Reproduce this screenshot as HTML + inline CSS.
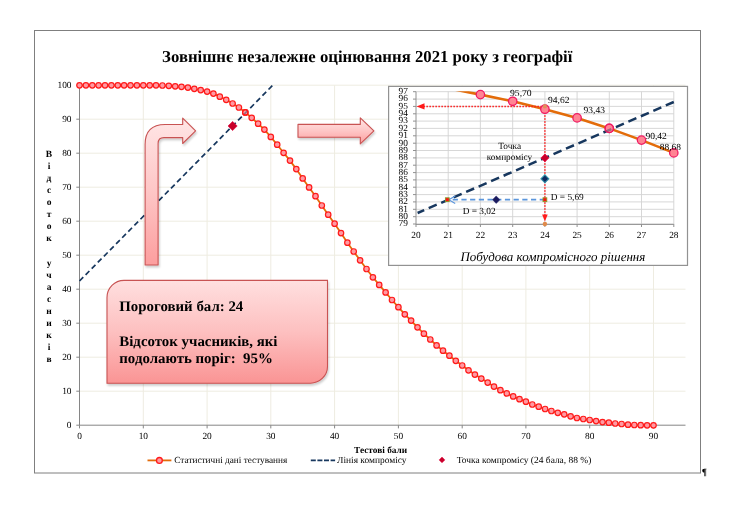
<!DOCTYPE html>
<html><head><meta charset="utf-8"><title>chart</title>
<style>html,body{margin:0;padding:0;background:#fff;}body{width:749px;height:517px;overflow:hidden;font-family:"Liberation Serif",serif;}svg{display:block;}text{font-family:"Liberation Serif",serif;fill:#000;text-rendering:geometricPrecision;}</style>
</head><body>
<svg width="749" height="517" viewBox="0 0 749 517" style="will-change:transform">
<defs>
<linearGradient id="gp" x1="0" y1="0" x2="0" y2="1"><stop offset="0" stop-color="#ffe6e6"/><stop offset="0.5" stop-color="#fec6c6"/><stop offset="1" stop-color="#fc9e9e"/></linearGradient>
<linearGradient id="gb" x1="0" y1="0" x2="0" y2="1"><stop offset="0" stop-color="#ffdfdf"/><stop offset="0.5" stop-color="#fdc0c0"/><stop offset="1" stop-color="#fa9494"/></linearGradient>
<filter id="sh" x="-10%" y="-10%" width="130%" height="130%"><feGaussianBlur in="SourceAlpha" stdDeviation="1.1"/><feOffset dx="1.2" dy="1.6" result="b"/><feComponentTransfer><feFuncA type="linear" slope="0.2"/></feComponentTransfer><feMerge><feMergeNode/><feMergeNode in="SourceGraphic"/></feMerge></filter>
</defs>
<rect x="0" y="0" width="749" height="517" fill="#ffffff"/>
<rect x="34.5" y="30.5" width="666" height="442.5" fill="#ffffff" stroke="#7f7f7f" stroke-width="1"/>
<path d="M79.5 391.2H685.5M79.5 357.2H685.5M79.5 323.2H685.5M79.5 289.2H685.5M79.5 255.2H685.5M79.5 221.2H685.5M79.5 187.2H685.5M79.5 153.2H685.5M79.5 119.2H685.5M79.5 85.2H685.5M143.3 425.2V85.2M207.1 425.2V85.2M270.8 425.2V85.2M334.6 425.2V85.2M398.4 425.2V85.2M462.2 425.2V85.2M525.9 425.2V85.2M589.7 425.2V85.2M653.5 425.2V85.2" stroke="#eeece1" stroke-width="1" fill="none"/>
<path d="M79.5 85.2V425.2H685.5M76.3 425.2H79.5M76.3 391.2H79.5M76.3 357.2H79.5M76.3 323.2H79.5M76.3 289.2H79.5M76.3 255.2H79.5M76.3 221.2H79.5M76.3 187.2H79.5M76.3 153.2H79.5M76.3 119.2H79.5M76.3 85.2H79.5M79.5 425.2v3.2M143.3 425.2v3.2M207.1 425.2v3.2M270.8 425.2v3.2M334.6 425.2v3.2M398.4 425.2v3.2M462.2 425.2v3.2M525.9 425.2v3.2M589.7 425.2v3.2M653.5 425.2v3.2" stroke="#868686" stroke-width="1" fill="none"/>
<text x="71.5" y="428.1" font-size="9.33" text-anchor="end">0</text>
<text x="71.5" y="394.1" font-size="9.33" text-anchor="end">10</text>
<text x="71.5" y="360.1" font-size="9.33" text-anchor="end">20</text>
<text x="71.5" y="326.1" font-size="9.33" text-anchor="end">30</text>
<text x="71.5" y="292.1" font-size="9.33" text-anchor="end">40</text>
<text x="71.5" y="258.1" font-size="9.33" text-anchor="end">50</text>
<text x="71.5" y="224.1" font-size="9.33" text-anchor="end">60</text>
<text x="71.5" y="190.1" font-size="9.33" text-anchor="end">70</text>
<text x="71.5" y="156.1" font-size="9.33" text-anchor="end">80</text>
<text x="71.5" y="122.1" font-size="9.33" text-anchor="end">90</text>
<text x="71.5" y="88.1" font-size="9.33" text-anchor="end">100</text>
<text x="79.5" y="439" font-size="9.33" text-anchor="middle">0</text>
<text x="143.3" y="439" font-size="9.33" text-anchor="middle">10</text>
<text x="207.1" y="439" font-size="9.33" text-anchor="middle">20</text>
<text x="270.8" y="439" font-size="9.33" text-anchor="middle">30</text>
<text x="334.6" y="439" font-size="9.33" text-anchor="middle">40</text>
<text x="398.4" y="439" font-size="9.33" text-anchor="middle">50</text>
<text x="462.2" y="439" font-size="9.33" text-anchor="middle">60</text>
<text x="525.9" y="439" font-size="9.33" text-anchor="middle">70</text>
<text x="589.7" y="439" font-size="9.33" text-anchor="middle">80</text>
<text x="653.5" y="439" font-size="9.33" text-anchor="middle">90</text>
<text x="162.1" y="62.2" font-size="16.7" font-weight="bold" textLength="410.3" lengthAdjust="spacingAndGlyphs">Зовнішнє незалежне оцінювання 2021 року з географії</text>
<text x="49" y="156.7" font-size="9.5" font-weight="bold" text-anchor="middle">В</text>
<text x="49" y="168.8" font-size="9.5" font-weight="bold" text-anchor="middle">і</text>
<text x="49" y="180.9" font-size="9.5" font-weight="bold" text-anchor="middle">д</text>
<text x="49" y="193.0" font-size="9.5" font-weight="bold" text-anchor="middle">с</text>
<text x="49" y="205.1" font-size="9.5" font-weight="bold" text-anchor="middle">о</text>
<text x="49" y="217.2" font-size="9.5" font-weight="bold" text-anchor="middle">т</text>
<text x="49" y="229.3" font-size="9.5" font-weight="bold" text-anchor="middle">о</text>
<text x="49" y="241.4" font-size="9.5" font-weight="bold" text-anchor="middle">к</text>
<text x="49" y="265.6" font-size="9.5" font-weight="bold" text-anchor="middle">у</text>
<text x="49" y="277.7" font-size="9.5" font-weight="bold" text-anchor="middle">ч</text>
<text x="49" y="289.8" font-size="9.5" font-weight="bold" text-anchor="middle">а</text>
<text x="49" y="301.9" font-size="9.5" font-weight="bold" text-anchor="middle">с</text>
<text x="49" y="314.0" font-size="9.5" font-weight="bold" text-anchor="middle">н</text>
<text x="49" y="326.1" font-size="9.5" font-weight="bold" text-anchor="middle">и</text>
<text x="49" y="338.2" font-size="9.5" font-weight="bold" text-anchor="middle">к</text>
<text x="49" y="350.3" font-size="9.5" font-weight="bold" text-anchor="middle">і</text>
<text x="49" y="362.4" font-size="9.5" font-weight="bold" text-anchor="middle">в</text>
<text x="354.1" y="453" font-size="9.33" font-weight="bold" textLength="53.1" lengthAdjust="spacingAndGlyphs">Тестові бали</text>
<path d="M79.5 281.0L272.8 85.2" stroke="#17375e" stroke-width="1.7" stroke-dasharray="5.35 3.33" fill="none"/>
<path d="M79.5 85.3L85.9 85.3L92.3 85.3L98.6 85.3L105.0 85.3L111.4 85.3L117.8 85.3L124.1 85.3L130.5 85.3L136.9 85.3L143.3 85.3L149.7 85.3L156.0 85.3L162.4 85.5L168.8 85.8L175.2 86.3L181.5 86.8L187.9 87.6L194.3 88.8L200.7 90.1L207.1 91.6L213.4 93.6L219.8 96.7L226.2 99.8L232.6 103.5L238.9 107.5L245.3 112.4L251.7 117.8L258.1 123.7L264.4 129.6L270.8 136.9L277.2 144.7L283.6 152.8L290.0 160.6L296.3 169.1L302.7 178.4L309.1 187.4L315.5 196.2L321.8 205.5L328.2 214.7L334.6 223.7L341.0 233.1L347.4 242.7L353.7 251.5L360.1 260.3L366.5 269.0L372.9 277.3L379.2 284.9L385.6 292.4L392.0 300.0L398.4 307.2L404.8 314.3L411.1 320.6L417.5 327.3L423.9 333.7L430.3 339.5L436.6 345.4L443.0 350.7L449.4 355.7L455.8 360.8L462.2 365.5L468.5 370.3L474.9 374.6L481.3 378.6L487.7 382.6L494.0 386.6L500.4 390.2L506.8 393.4L513.2 396.4L519.5 399.2L525.9 401.7L532.3 404.5L538.7 406.7L545.1 409.0L551.4 411.0L557.8 412.8L564.2 414.3L570.6 416.3L576.9 418.0L583.3 419.0L589.7 420.0L596.1 421.1L602.5 422.1L608.8 422.7L615.2 423.5L621.6 424.0L628.0 424.7L634.3 425.0L640.7 425.2L647.1 425.3L653.5 425.3" stroke="#e36c0a" stroke-width="1.8" fill="none" stroke-linejoin="round"/>
<g fill="#ff9aa2" stroke="#ff1a1a" stroke-width="1.2">
<circle cx="79.5" cy="85.3" r="2.75"/>
<circle cx="85.9" cy="85.3" r="2.75"/>
<circle cx="92.3" cy="85.3" r="2.75"/>
<circle cx="98.6" cy="85.3" r="2.75"/>
<circle cx="105.0" cy="85.3" r="2.75"/>
<circle cx="111.4" cy="85.3" r="2.75"/>
<circle cx="117.8" cy="85.3" r="2.75"/>
<circle cx="124.1" cy="85.3" r="2.75"/>
<circle cx="130.5" cy="85.3" r="2.75"/>
<circle cx="136.9" cy="85.3" r="2.75"/>
<circle cx="143.3" cy="85.3" r="2.75"/>
<circle cx="149.7" cy="85.3" r="2.75"/>
<circle cx="156.0" cy="85.3" r="2.75"/>
<circle cx="162.4" cy="85.5" r="2.75"/>
<circle cx="168.8" cy="85.8" r="2.75"/>
<circle cx="175.2" cy="86.3" r="2.75"/>
<circle cx="181.5" cy="86.8" r="2.75"/>
<circle cx="187.9" cy="87.6" r="2.75"/>
<circle cx="194.3" cy="88.8" r="2.75"/>
<circle cx="200.7" cy="90.1" r="2.75"/>
<circle cx="207.1" cy="91.6" r="2.75"/>
<circle cx="213.4" cy="93.6" r="2.75"/>
<circle cx="219.8" cy="96.7" r="2.75"/>
<circle cx="226.2" cy="99.8" r="2.75"/>
<circle cx="232.6" cy="103.5" r="2.75"/>
<circle cx="238.9" cy="107.5" r="2.75"/>
<circle cx="245.3" cy="112.4" r="2.75"/>
<circle cx="251.7" cy="117.8" r="2.75"/>
<circle cx="258.1" cy="123.7" r="2.75"/>
<circle cx="264.4" cy="129.6" r="2.75"/>
<circle cx="270.8" cy="136.9" r="2.75"/>
<circle cx="277.2" cy="144.7" r="2.75"/>
<circle cx="283.6" cy="152.8" r="2.75"/>
<circle cx="290.0" cy="160.6" r="2.75"/>
<circle cx="296.3" cy="169.1" r="2.75"/>
<circle cx="302.7" cy="178.4" r="2.75"/>
<circle cx="309.1" cy="187.4" r="2.75"/>
<circle cx="315.5" cy="196.2" r="2.75"/>
<circle cx="321.8" cy="205.5" r="2.75"/>
<circle cx="328.2" cy="214.7" r="2.75"/>
<circle cx="334.6" cy="223.7" r="2.75"/>
<circle cx="341.0" cy="233.1" r="2.75"/>
<circle cx="347.4" cy="242.7" r="2.75"/>
<circle cx="353.7" cy="251.5" r="2.75"/>
<circle cx="360.1" cy="260.3" r="2.75"/>
<circle cx="366.5" cy="269.0" r="2.75"/>
<circle cx="372.9" cy="277.3" r="2.75"/>
<circle cx="379.2" cy="284.9" r="2.75"/>
<circle cx="385.6" cy="292.4" r="2.75"/>
<circle cx="392.0" cy="300.0" r="2.75"/>
<circle cx="398.4" cy="307.2" r="2.75"/>
<circle cx="404.8" cy="314.3" r="2.75"/>
<circle cx="411.1" cy="320.6" r="2.75"/>
<circle cx="417.5" cy="327.3" r="2.75"/>
<circle cx="423.9" cy="333.7" r="2.75"/>
<circle cx="430.3" cy="339.5" r="2.75"/>
<circle cx="436.6" cy="345.4" r="2.75"/>
<circle cx="443.0" cy="350.7" r="2.75"/>
<circle cx="449.4" cy="355.7" r="2.75"/>
<circle cx="455.8" cy="360.8" r="2.75"/>
<circle cx="462.2" cy="365.5" r="2.75"/>
<circle cx="468.5" cy="370.3" r="2.75"/>
<circle cx="474.9" cy="374.6" r="2.75"/>
<circle cx="481.3" cy="378.6" r="2.75"/>
<circle cx="487.7" cy="382.6" r="2.75"/>
<circle cx="494.0" cy="386.6" r="2.75"/>
<circle cx="500.4" cy="390.2" r="2.75"/>
<circle cx="506.8" cy="393.4" r="2.75"/>
<circle cx="513.2" cy="396.4" r="2.75"/>
<circle cx="519.5" cy="399.2" r="2.75"/>
<circle cx="525.9" cy="401.7" r="2.75"/>
<circle cx="532.3" cy="404.5" r="2.75"/>
<circle cx="538.7" cy="406.7" r="2.75"/>
<circle cx="545.1" cy="409.0" r="2.75"/>
<circle cx="551.4" cy="411.0" r="2.75"/>
<circle cx="557.8" cy="412.8" r="2.75"/>
<circle cx="564.2" cy="414.3" r="2.75"/>
<circle cx="570.6" cy="416.3" r="2.75"/>
<circle cx="576.9" cy="418.0" r="2.75"/>
<circle cx="583.3" cy="419.0" r="2.75"/>
<circle cx="589.7" cy="420.0" r="2.75"/>
<circle cx="596.1" cy="421.1" r="2.75"/>
<circle cx="602.5" cy="422.1" r="2.75"/>
<circle cx="608.8" cy="422.7" r="2.75"/>
<circle cx="615.2" cy="423.5" r="2.75"/>
<circle cx="621.6" cy="424.0" r="2.75"/>
<circle cx="628.0" cy="424.7" r="2.75"/>
<circle cx="634.3" cy="425.0" r="2.75"/>
<circle cx="640.7" cy="425.2" r="2.75"/>
<circle cx="647.1" cy="425.3" r="2.75"/>
<circle cx="653.5" cy="425.3" r="2.75"/>
</g>
<clipPath id="mc"><circle cx="245.3" cy="112.4" r="2.75"/></clipPath>
<path d="M79.5 281.0L272.8 85.2" stroke="#17375e" stroke-width="1.7" stroke-dasharray="5.35 3.33" fill="none" opacity="0.45" clip-path="url(#mc)"/>
<circle cx="245.3" cy="112.4" r="2.75" fill="none" stroke="#ff1a1a" stroke-width="1.2"/>
<path d="M232.6 121.4l4.6 4.6l-4.6 4.6l-4.6 -4.6z" fill="#c8002a" stroke="#e0003a" stroke-width="0.6"/>
<g filter="url(#sh)">
<path d="M145.1 265V144.5Q145.1 124.5 165.1 124.5H182.7V118.1L195.6 130.8L182.7 143.5V137.6H164Q158.1 137.6 158.1 143.5V265Z" fill="url(#gp)" stroke="#c85252" stroke-width="1.1" stroke-linejoin="round"/>
</g>
<g filter="url(#sh)">
<path d="M298 124.4H360.3V117.8L373.9 130.8L360.3 143.9V137.3H298Z" fill="url(#gp)" stroke="#c85252" stroke-width="1.1" stroke-linejoin="round"/>
</g>
<g filter="url(#sh)">
<path d="M124 280.4H327.5V366.2A17 17 0 0 1 310.5 383.2H107V297.4A17 17 0 0 1 124 280.4Z" fill="url(#gb)" stroke="#c85252" stroke-width="1.1"/>
</g>
<text x="119.3" y="311" font-size="14.67" font-weight="bold" textLength="124" lengthAdjust="spacingAndGlyphs">Пороговий бал: 24</text>
<text x="119.3" y="345.8" font-size="14.67" font-weight="bold" xml:space="preserve" textLength="158.2" lengthAdjust="spacingAndGlyphs">Відсоток учасників, які</text>
<text x="119.3" y="362.6" font-size="14.67" font-weight="bold" xml:space="preserve" textLength="153.6" lengthAdjust="spacingAndGlyphs">подолають поріг:  95%</text>
<rect x="388.6" y="86.4" width="298.9" height="179" fill="#ffffff" stroke="#929292" stroke-width="1.2"/>
<path d="M416.0 224.0H673.8M416.0 216.7H673.8M416.0 209.3H673.8M416.0 201.9H673.8M416.0 194.6H673.8M416.0 187.2H673.8M416.0 179.9H673.8M416.0 172.6H673.8M416.0 165.2H673.8M416.0 157.9H673.8M416.0 150.5H673.8M416.0 143.2H673.8M416.0 135.8H673.8M416.0 128.4H673.8M416.0 121.1H673.8M416.0 113.8H673.8M416.0 106.4H673.8M416.0 99.1H673.8M416.0 91.7H673.8M448.2 224.0V91.7M480.4 224.0V91.7M512.7 224.0V91.7M544.9 224.0V91.7M577.1 224.0V91.7M609.3 224.0V91.7M641.5 224.0V91.7M673.8 224.0V91.7" stroke="#d3d3d3" stroke-width="0.9" fill="none"/>
<path d="M416.0 91.7V224.4H673.8M413.0 224.0h3M413.0 216.7h3M413.0 209.3h3M413.0 201.9h3M413.0 194.6h3M413.0 187.2h3M413.0 179.9h3M413.0 172.6h3M413.0 165.2h3M413.0 157.9h3M413.0 150.5h3M413.0 143.2h3M413.0 135.8h3M413.0 128.4h3M413.0 121.1h3M413.0 113.8h3M413.0 106.4h3M413.0 99.1h3M413.0 91.7h3M416.0 224.0v3M448.2 224.0v3M480.4 224.0v3M512.7 224.0v3M544.9 224.0v3M577.1 224.0v3M609.3 224.0v3M641.5 224.0v3M673.8 224.0v3" stroke="#909090" stroke-width="1" fill="none"/>
<text x="407.9" y="226.3" font-size="9.33" text-anchor="end">79</text>
<text x="407.9" y="219.0" font-size="9.33" text-anchor="end">80</text>
<text x="407.9" y="211.6" font-size="9.33" text-anchor="end">81</text>
<text x="407.9" y="204.2" font-size="9.33" text-anchor="end">82</text>
<text x="407.9" y="196.9" font-size="9.33" text-anchor="end">83</text>
<text x="407.9" y="189.6" font-size="9.33" text-anchor="end">84</text>
<text x="407.9" y="182.2" font-size="9.33" text-anchor="end">85</text>
<text x="407.9" y="174.9" font-size="9.33" text-anchor="end">86</text>
<text x="407.9" y="167.5" font-size="9.33" text-anchor="end">87</text>
<text x="407.9" y="160.2" font-size="9.33" text-anchor="end">88</text>
<text x="407.9" y="152.8" font-size="9.33" text-anchor="end">89</text>
<text x="407.9" y="145.5" font-size="9.33" text-anchor="end">90</text>
<text x="407.9" y="138.1" font-size="9.33" text-anchor="end">91</text>
<text x="407.9" y="130.8" font-size="9.33" text-anchor="end">92</text>
<text x="407.9" y="123.4" font-size="9.33" text-anchor="end">93</text>
<text x="407.9" y="116.0" font-size="9.33" text-anchor="end">94</text>
<text x="407.9" y="108.7" font-size="9.33" text-anchor="end">95</text>
<text x="407.9" y="101.4" font-size="9.33" text-anchor="end">96</text>
<text x="407.9" y="94.0" font-size="9.33" text-anchor="end">97</text>
<text x="416.0" y="238" font-size="9.33" text-anchor="middle">20</text>
<text x="448.2" y="238" font-size="9.33" text-anchor="middle">21</text>
<text x="480.4" y="238" font-size="9.33" text-anchor="middle">22</text>
<text x="512.7" y="238" font-size="9.33" text-anchor="middle">23</text>
<text x="544.9" y="238" font-size="9.33" text-anchor="middle">24</text>
<text x="577.1" y="238" font-size="9.33" text-anchor="middle">25</text>
<text x="609.3" y="238" font-size="9.33" text-anchor="middle">26</text>
<text x="641.5" y="238" font-size="9.33" text-anchor="middle">27</text>
<text x="673.8" y="238" font-size="9.33" text-anchor="middle">28</text>
<text x="460.5" y="261" font-size="13" font-style="italic" textLength="184.8" lengthAdjust="spacingAndGlyphs">Побудова компромісного рішення</text>
<clipPath id="ic"><rect x="416.0" y="91.2" width="269.8" height="140.3"/></clipPath>
<path d="M448.2 88.3L480.4 94.6L512.7 101.3L544.9 109.2L577.1 117.9L609.3 128.4L641.5 140.1L673.8 152.9" stroke="#e36c0a" stroke-width="2.6" fill="none" stroke-linejoin="round" clip-path="url(#ic)"/>
<path d="M673.8 102.0L417.6 213.0" stroke="#17375e" stroke-width="2.5" stroke-dasharray="8.7 4.9" fill="none"/>
<path d="M544.9 106.4H424.0" stroke="#ff1a1a" stroke-width="1.45" stroke-dasharray="1.5 1.5" fill="none"/>
<path d="M416.5 106.4l8 -3.2v6.4z" fill="#ff1a1a"/>
<path d="M544.9 109.2V216.0" stroke="#ff1a1a" stroke-width="1.45" stroke-dasharray="1.5 1.5" fill="none"/>
<path d="M544.9 221.4l-2.8 -7h5.6z" fill="#ff1a1a"/>
<path d="M544.9 199.7H449.2" stroke="#5b96dc" stroke-width="1.8" stroke-dasharray="5.2 3.5" fill="none"/>
<path d="M455.2 195.9L448.8 199.7L455.2 203.5" stroke="#5b96dc" stroke-width="1.2" fill="none"/>
<g fill="#ff8493" stroke="#f01a62" stroke-width="1.3">
<circle cx="480.4" cy="94.6" r="4.2"/>
<circle cx="512.7" cy="101.3" r="4.2"/>
<circle cx="544.9" cy="109.2" r="4.2"/>
<circle cx="577.1" cy="117.9" r="4.2"/>
<circle cx="609.3" cy="128.4" r="4.2"/>
<circle cx="641.5" cy="140.1" r="4.2"/>
<circle cx="673.8" cy="152.9" r="4.2"/>
</g>
<clipPath id="ic2"><circle cx="609.3" cy="128.4" r="4.2"/></clipPath>
<path d="M673.8 102.0L417.6 213.0" stroke="#17375e" stroke-width="2.5" stroke-dasharray="8.7 4.9" fill="none" opacity="0.4" clip-path="url(#ic2)"/>
<circle cx="609.3" cy="128.4" r="4.2" fill="none" stroke="#f01a62" stroke-width="1.3"/>
<circle cx="544.9" cy="106.4" r="2.1" fill="#e0905a"/>
<circle cx="544.9" cy="224.0" r="2.2" fill="#e08a4a"/>
<path d="M544.9 154.0l3.9 3.9l-3.9 3.9l-3.9 -3.9z" fill="#c8002a" stroke="#e8003c" stroke-width="0.8"/>
<path d="M544.9 174.9l3.9 3.9l-3.9 3.9l-3.9 -3.9z" fill="#0f2a5e" stroke="#2e8fa8" stroke-width="1.1"/>
<path d="M496.2 196.0l3.7 3.7l-3.7 3.7l-3.7 -3.7z" fill="#1a1a5e" stroke="#2a2a70" stroke-width="0.6"/>
<rect x="543.0" y="197.8" width="3.8" height="3.8" fill="#ff1010" stroke="#8a9a2a" stroke-width="0.9"/>
<rect x="445.4" y="197.8" width="3.8" height="3.8" fill="#ff1010" stroke="#8a9a2a" stroke-width="0.9"/>
<text x="510" y="96" font-size="9.33" textLength="21.7" lengthAdjust="spacingAndGlyphs">95,70</text>
<text x="548" y="102.9" font-size="9.33" textLength="21.4" lengthAdjust="spacingAndGlyphs">94,62</text>
<text x="583.6" y="112.8" font-size="9.33" textLength="21.4" lengthAdjust="spacingAndGlyphs">93,43</text>
<text x="645.4" y="139.4" font-size="9.33" textLength="21.4" lengthAdjust="spacingAndGlyphs">90,42</text>
<text x="659.8" y="150" font-size="9.33" textLength="21.2" lengthAdjust="spacingAndGlyphs">88,68</text>
<text x="509.7" y="148.8" font-size="9.4" text-anchor="middle">Точка</text>
<text x="509.5" y="159.8" font-size="9.4" text-anchor="middle" textLength="45.4" lengthAdjust="spacingAndGlyphs">компромісу</text>
<text x="462.7" y="213.9" font-size="9.33" textLength="33" lengthAdjust="spacingAndGlyphs">D = 3,02</text>
<text x="550.8" y="200.1" font-size="9.33" textLength="33" lengthAdjust="spacingAndGlyphs">D = 5,69</text>
<path d="M147.5 460.4H171.4" stroke="#e36c0a" stroke-width="1.8"/>
<circle cx="159.4" cy="460.4" r="2.9" fill="#ff9aa2" stroke="#ff1a1a" stroke-width="1.3"/>
<text x="174.3" y="463" font-size="9.33" textLength="113" lengthAdjust="spacingAndGlyphs">Статистичні дані тестування</text>
<path d="M310.8 460.4H335.1" stroke="#17375e" stroke-width="1.7" stroke-dasharray="5 1.6"/>
<text x="337" y="463" font-size="9.33" textLength="69.5" lengthAdjust="spacingAndGlyphs">Лінія компромісу</text>
<path d="M442 457l2.9 2.9l-2.9 2.9l-2.9 -2.9z" fill="#c8002a" stroke="#e0003a" stroke-width="0.5"/>
<text x="456.8" y="463" font-size="9.33" textLength="134.6" lengthAdjust="spacingAndGlyphs">Точка компромісу (24 бала, 88 %)</text>
<text x="701.8" y="475" font-size="9.5" font-weight="bold">¶</text>
</svg>
</body></html>
